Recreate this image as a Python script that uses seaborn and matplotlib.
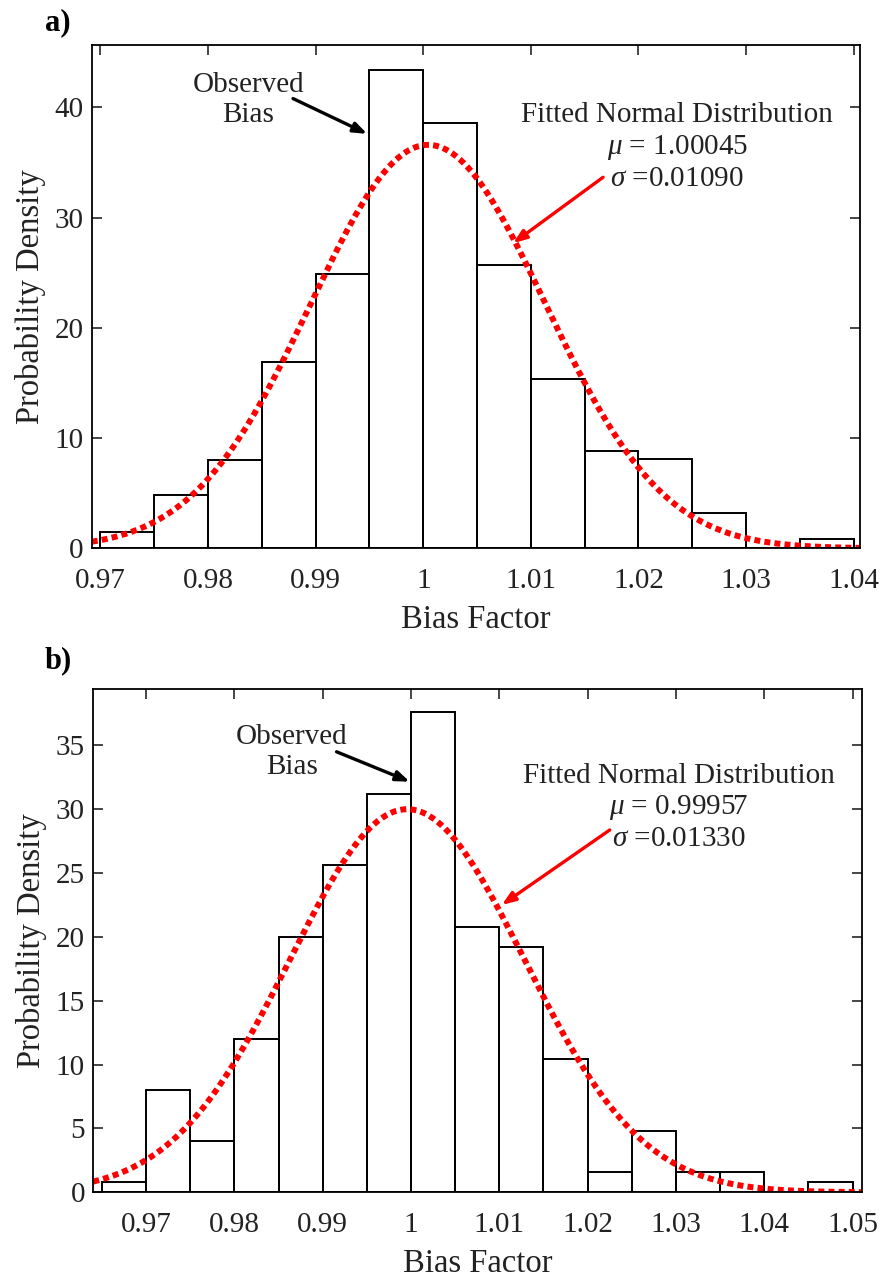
import numpy as np
import pandas as pd
import matplotlib
matplotlib.use("Agg")
import matplotlib.pyplot as plt
import seaborn as sns

# ---- data -------------------------------------------------------------
bin_width = 0.005

# panel a
start_a = 0.970
dens_a = [1.5, 4.8, 8.0, 16.9, 24.9, 43.4, 38.6, 25.7, 15.4, 8.8, 8.1, 3.2, 0.0, 0.85]
mu_a, sigma_a = 1.00045, 0.01090
xticks_a = [0.97, 0.98, 0.99, 1.00, 1.01, 1.02, 1.03, 1.04]
xticklabels_a = ["0.97", "0.98", "0.99", "1", "1.01", "1.02", "1.03", "1.04"]
yticks_a = [0, 10, 20, 30, 40]

# panel b
start_b = 0.965
dens_b = [0.8, 8.0, 4.0, 12.0, 20.0, 25.6, 31.2, 37.6, 20.8, 19.2, 10.4,
          1.6, 4.8, 1.6, 1.6, 0.0, 0.8]
mu_b, sigma_b = 0.99957, 0.01330
xticks_b = [0.97, 0.98, 0.99, 1.00, 1.01, 1.02, 1.03, 1.04, 1.05]
xticklabels_b = ["0.97", "0.98", "0.99", "1", "1.01", "1.02", "1.03", "1.04", "1.05"]
yticks_b = [0, 5, 10, 15, 20, 25, 30, 35]

# ---- style ------------------------------------------------------------
sns.set_style("ticks")
plt.rcParams["font.family"] = ["Liberation Serif", "DejaVu Serif"]
plt.rcParams["mathtext.fontset"] = "custom"
plt.rcParams["mathtext.rm"] = "Liberation Serif"
plt.rcParams["mathtext.it"] = "Liberation Serif:italic"
TXT = "#222222"

fig = plt.figure(figsize=(8.81, 12.77), dpi=100)
ax_a = fig.add_axes([0.1041, 0.5706, 0.8721, 0.3945])
ax_b = fig.add_axes([0.1059, 0.0663, 0.8722, 0.3941])


def draw_panel(ax, start, dens, mu, sigma, xlim, ylim, xticks, xticklabels, yticks):
    n = len(dens)
    centers = start + bin_width * (np.arange(n) + 0.5)
    hist_df = pd.DataFrame({"bias": centers, "density": np.asarray(dens, float)})
    sns.histplot(data=hist_df, x="bias", weights="density",
                 binwidth=bin_width, binrange=(start, start + n * bin_width),
                 stat="count", element="bars", fill=False, color="black",
                 linewidth=1.4, ax=ax)
    # fitted normal density from the stated mean and standard deviation
    xs = np.linspace(xlim[0], xlim[1], 600)
    pdf = np.exp(-0.5 * ((xs - mu) / sigma) ** 2) / (sigma * np.sqrt(2 * np.pi))
    sns.lineplot(x=xs, y=pdf, color="red", linewidth=4.3,
                 linestyle=(0, (1, 0.7)), ax=ax)
    ax.set_xlim(*xlim)
    ax.set_ylim(*ylim)
    ax.set_xticks(xticks)
    ax.set_xticklabels(xticklabels)
    ax.set_yticks(yticks)
    ax.tick_params(direction="in", top=True, right=True, length=7, width=1.2,
                   labelsize=21, labelcolor=TXT)
    ax.tick_params(axis="x", pad=14)
    ax.tick_params(axis="y", pad=6)
    for s in ax.spines.values():
        s.set_visible(True)
        s.set_color("black")
        s.set_linewidth(1.3)
    ax.set_xlabel("Bias Factor", fontsize=23.5, color=TXT, labelpad=8)
    ax.set_ylabel("Probability Density", fontsize=23.5, color=TXT, labelpad=6)


draw_panel(ax_a, start_a, dens_a, mu_a, sigma_a, (0.96919, 1.04059), (0, 45.7),
           xticks_a, xticklabels_a, yticks_a)
draw_panel(ax_b, start_b, dens_b, mu_b, sigma_b, (0.96402, 1.05104), (0, 39.4),
           xticks_b, xticklabels_b, yticks_b)

# ---- annotations ------------------------------------------------------
black_arrow = dict(arrowstyle="-|>,head_length=0.8,head_width=0.3",
                   color="black", lw=2.4, shrinkA=0, shrinkB=0)
red_arrow = dict(arrowstyle="-|>,head_length=0.8,head_width=0.3",
                 color="red", lw=2.4, shrinkA=0, shrinkB=0)

ax_a.text(0.98372, 40.65, "Observed\nBias", ha="center", va="center",
          multialignment="center", fontsize=21, color=TXT, linespacing=1.2)
ax_a.annotate("", xy=(0.99479, 37.6), xytext=(0.98790, 40.8),
              arrowprops=black_arrow)
ax_a.text(1.02359, 36.4,
          "Fitted Normal Distribution\n$\\mu$ = 1.00045\n$\\sigma$ =0.01090",
          ha="center", va="center", multialignment="center", fontsize=21,
          color=TXT, linespacing=1.2)
ax_a.annotate("", xy=(1.00835, 27.68), xytext=(1.01671, 33.66),
              arrowprops=red_arrow)

ax_b.text(0.98652, 34.44, "Observed\nBias", ha="center", va="center",
          multialignment="center", fontsize=21, color=TXT, linespacing=1.2)
ax_b.annotate("", xy=(0.99986, 32.15), xytext=(0.99157, 34.49),
              arrowprops=black_arrow)
ax_b.text(1.03035, 30.1,
          "Fitted Normal Distribution\n$\\mu$ = 0.99957\n$\\sigma$ =0.01330",
          ha="center", va="center", multialignment="center", fontsize=21,
          color=TXT, linespacing=1.2)
ax_b.annotate("", xy=(1.01028, 22.5), xytext=(1.02251, 28.37),
              arrowprops=red_arrow)

# panel letters
fig.text(45 / 881, 1 - 23 / 1277, "a)", ha="left", va="center",
         fontsize=22, fontweight="bold", color="black")
fig.text(45 / 881, 1 - 661 / 1277, "b)", ha="left", va="center",
         fontsize=22, fontweight="bold", color="black")

fig.savefig("out.png", dpi=100)
